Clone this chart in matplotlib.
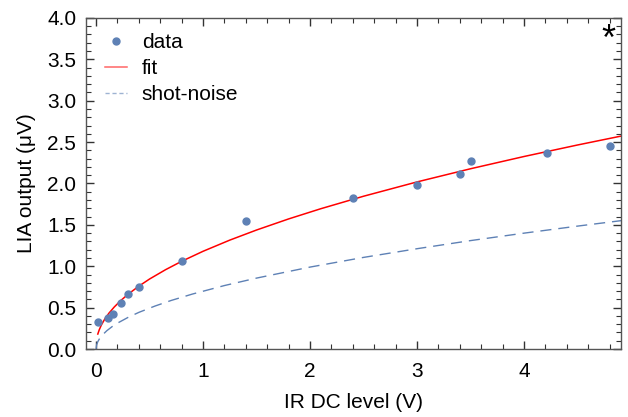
import matplotlib.pyplot as plt
from matplotlib.ticker import MultipleLocator

plt.rcParams['font.family'] = ['Liberation Sans', 'DejaVu Sans']

# measured points
ir_dc = [0.016, 0.11, 0.155, 0.234, 0.30, 0.405, 0.80, 1.40, 2.40, 3.00, 3.40, 3.50, 4.21, 4.80]
lia_out = [0.33, 0.38, 0.42, 0.56, 0.66, 0.75, 1.06, 1.55, 1.82, 1.98, 2.12, 2.27, 2.37, 2.45]

# fit curve
fit_x = [0.016, 0.03, 0.05, 0.08, 0.12, 0.17, 0.23, 0.3, 0.4, 0.5, 0.65, 0.8, 1.0, 1.25,
         1.5, 1.8, 2.1, 2.5, 3.0, 3.5, 4.0, 4.5, 4.92]
fit_y = [0.181, 0.234, 0.292, 0.360, 0.433, 0.508, 0.585, 0.663, 0.760, 0.846, 0.959, 1.060,
         1.181, 1.316, 1.438, 1.572, 1.695, 1.846, 2.019, 2.178, 2.326, 2.465, 2.576]

# shot-noise curve
shot_x = [0.0, 0.005, 0.015, 0.03, 0.06, 0.1, 0.15, 0.2, 0.3, 0.4, 0.55, 0.7, 0.9, 1.2,
          1.5, 2.0, 2.5, 3.0, 3.5, 4.0, 4.5, 4.92]
shot_y = [0.0, 0.049, 0.086, 0.121, 0.171, 0.221, 0.271, 0.313, 0.383, 0.443, 0.519, 0.586,
          0.664, 0.767, 0.857, 0.990, 1.107, 1.212, 1.310, 1.400, 1.485, 1.553]

blue = '#5E81B5'
fs = 15

fig = plt.figure(figsize=(6.28, 4.17), dpi=100)
ax = fig.add_axes([0.137, 0.163, 0.852, 0.794])

ax.plot(ir_dc, lia_out, 'o', color=blue, ms=5, label='data', zorder=3)
ax.plot(fit_x, fit_y, '-', color='#FF0000', lw=1.1, label='fit')
ax.plot(shot_x, shot_y, '--', color=blue, lw=1.0, dashes=(8, 5), label='shot-noise')

ax.set_xlim(-0.094, 4.907)
ax.set_ylim(0, 4.0)
ax.xaxis.set_major_locator(MultipleLocator(1))
ax.xaxis.set_minor_locator(MultipleLocator(0.2))
ax.yaxis.set_major_locator(MultipleLocator(0.5))
ax.yaxis.set_minor_locator(MultipleLocator(0.1))
ax.yaxis.set_major_formatter(plt.FormatStrFormatter('%.1f'))

for s in ax.spines.values():
    s.set_color('#555555')
    s.set_linewidth(1.0)
ax.tick_params(which='both', direction='in', top=True, right=True, color='#333333',
               labelsize=fs)
ax.tick_params(axis='x', pad=9)
ax.tick_params(axis='y', pad=7)
ax.tick_params(which='major', length=6, width=1)
ax.tick_params(which='minor', length=3.5, width=0.8)

ax.set_xlabel('IR DC level (V)', fontsize=fs, labelpad=9)
ax.set_ylabel('LIA output (\u03bcV)', fontsize=fs, labelpad=8)

leg = ax.legend(loc='upper left', frameon=False, fontsize=fs, handlelength=1.05,
                handletextpad=0.72, labelspacing=0.33, borderpad=0.0,
                borderaxespad=0.0, bbox_to_anchor=(0.035, 0.953))
lines = leg.get_lines()
lines[1].set_alpha(0.6)
lines[2].set_alpha(0.6)
lines[2].set_dashes((3, 2))

ax.text(0.977, 0.985, '*', transform=ax.transAxes, fontsize=26, ha='center', va='top')

fig.savefig('out.png', dpi=100)
